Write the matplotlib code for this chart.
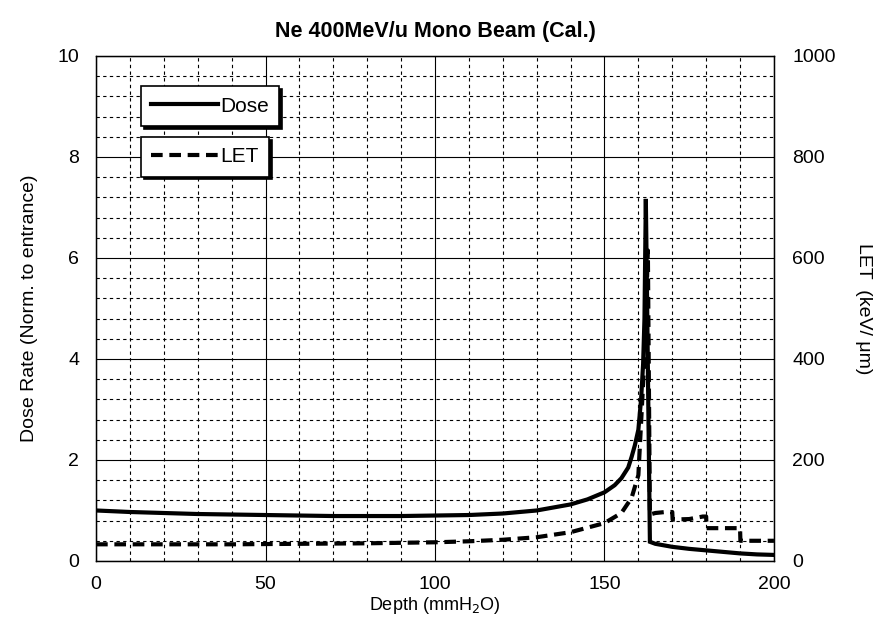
import numpy as np
import matplotlib
matplotlib.use("Agg")
import matplotlib.pyplot as plt
from matplotlib.lines import Line2D
from matplotlib.font_manager import FontProperties

plt.rcParams['font.family'] = ['Liberation Sans', 'DejaVu Sans']

# ---- data ----
dose_x = [0, 10, 20, 30, 40, 50, 60, 70, 80, 90, 100, 110, 120, 130, 140, 145,
          150, 153, 155, 157, 158, 159, 160, 160.8, 161.4, 161.8, 162.2, 162.6,
          163.4, 165, 170, 175, 180, 185, 190, 195, 200]
dose_y = [1.0, 0.97, 0.95, 0.93, 0.92, 0.91, 0.9, 0.89, 0.89, 0.89, 0.9, 0.91,
          0.94, 1.0, 1.12, 1.22, 1.36, 1.5, 1.64, 1.85, 2.06, 2.3, 2.6, 3.2,
          3.9, 4.8, 7.17, 5.0, 0.38, 0.34, 0.28, 0.24, 0.21, 0.18, 0.15, 0.13, 0.12]

let_x = [0, 20, 40, 60, 80, 100, 110, 120, 130, 140, 150, 155, 158, 160, 161,
         162, 162.8, 163.4, 165, 168, 170, 170.1, 175, 179, 180, 180.1, 190,
         190.1, 200]
let_y = [33, 33, 33, 34, 35, 37, 39, 42, 47, 57, 75, 95, 125, 170, 300,
         430, 615, 92, 95, 97, 97, 82, 83, 88, 88, 65, 65, 40, 40]

xticks = [0, 50, 100, 150, 200]
yticks_left = [0, 2, 4, 6, 8, 10]
yticks_right = [0, 200, 400, 600, 800, 1000]

fig = plt.figure(figsize=(8.81, 6.27), dpi=100)
ax = fig.add_axes([0.109, 0.1053, 0.7695, 0.8054])

ax.set_xlim(0, 200)
ax.set_ylim(0, 10)
ax.set_xticks(xticks)
ax.set_yticks(yticks_left)
ax.set_xticks(np.arange(0, 201, 10), minor=True)
ax.set_yticks(np.arange(0, 10.01, 0.4), minor=True)
ax.grid(which='major', color='black', linewidth=0.8, linestyle='-')
ax.grid(which='minor', color='black', linewidth=0.8, linestyle=(0, (3, 3)))
ax.tick_params(which='both', length=0, labelsize=14, colors='black')
ax.tick_params(axis='y', pad=12)
ax.tick_params(axis='x', pad=11)
ax.set_axisbelow(True)
for s in ax.spines.values():
    s.set_linewidth(1.0)

ax2 = ax.twinx()
ax2.set_ylim(0, 1000)
ax2.set_yticks(yticks_right)
ax2.tick_params(length=0, labelsize=14, pad=13)

ax.plot(dose_x, dose_y, color='black', linewidth=3.0, solid_joinstyle='miter')
ax2.plot(let_x, let_y, color='black', linewidth=3.0, linestyle=(0, (2.8, 1.6)))

ax.set_title('Ne 400MeV/u Mono Beam (Cal.)', fontsize=15.5, fontweight='bold', pad=14)
ax.set_xlabel('Depth (mmH$_2$O)', fontsize=13, labelpad=1)
ax.set_ylabel('Dose Rate (Norm. to entrance)', fontsize=14, labelpad=14)
ax2.set_ylabel('LET  (keV/ μm)', fontsize=14, rotation=-90, labelpad=26)

# legend boxes
lp = FontProperties(family=['Liberation Sans Narrow', 'Liberation Sans'],
                    size=15, stretch='condensed')
shadow = {'color': 'black', 'alpha': 1.0}
h1 = Line2D([], [], color='black', linewidth=3.0)
h2 = Line2D([], [], color='black', linewidth=3.0, linestyle=(0, (2.8, 1.6)))
leg1 = ax2.legend([h1], ['Dose'], loc='upper left', bbox_to_anchor=(0.066, 0.94),
                  prop=lp, frameon=True, fancybox=False, shadow=shadow,
                  framealpha=1, edgecolor='black', handlelength=3.2,
                  handletextpad=0.1, borderpad=0.5, borderaxespad=0)
leg1.get_frame().set_linewidth(1.2)
ax2.add_artist(leg1)
leg2 = ax2.legend([h2], ['LET'], loc='upper left', bbox_to_anchor=(0.066, 0.84),
                  prop=lp, frameon=True, fancybox=False, shadow=shadow,
                  framealpha=1, edgecolor='black', handlelength=3.2,
                  handletextpad=0.1, borderpad=0.5, borderaxespad=0)
leg2.get_frame().set_linewidth(1.2)

fig.savefig('out.png', dpi=100)
